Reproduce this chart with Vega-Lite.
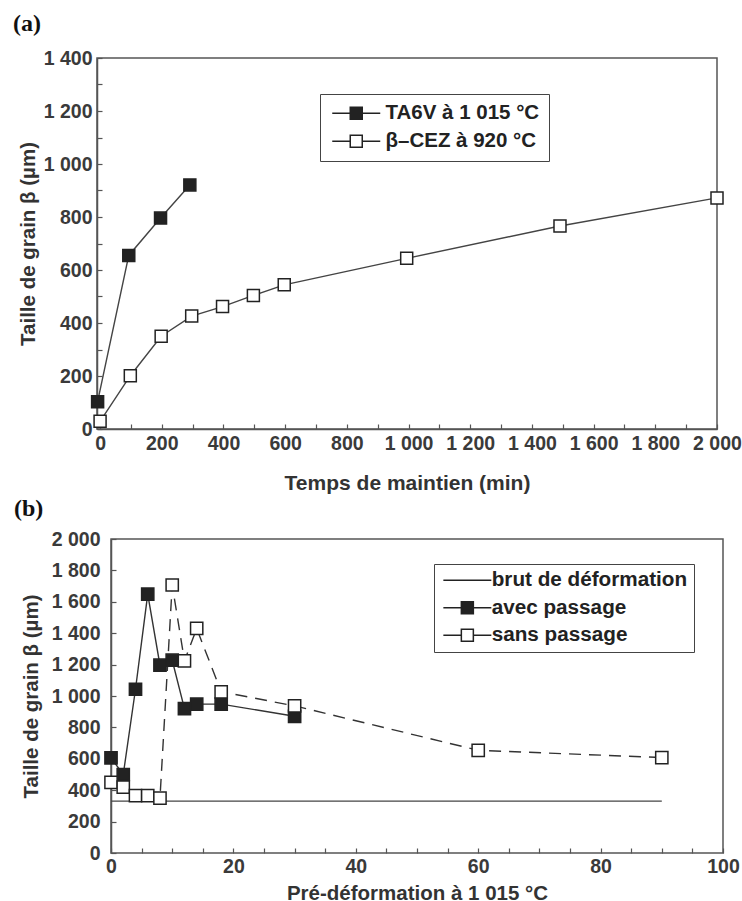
{
  "$schema": "https://vega.github.io/schema/vega-lite/v6.json",
  "padding": {"left": 12, "top": 11, "right": 0, "bottom": 0},
  "spacing": 2,
  "resolve": {"scale": {"fill": "independent", "shape": "independent"}, "legend": {"fill": "independent", "shape": "independent"}},
  "datasets": {
    "a": [
      {"series": "TA6V à 1 015 °C", "t": -8, "grain": 103},
      {"series": "TA6V à 1 015 °C", "t": 93, "grain": 655},
      {"series": "TA6V à 1 015 °C", "t": 196, "grain": 796},
      {"series": "TA6V à 1 015 °C", "t": 291, "grain": 921},
      {"series": "β–CEZ à 920 °C", "t": 0, "grain": 29},
      {"series": "β–CEZ à 920 °C", "t": 98, "grain": 201},
      {"series": "β–CEZ à 920 °C", "t": 198, "grain": 350},
      {"series": "β–CEZ à 920 °C", "t": 297, "grain": 426},
      {"series": "β–CEZ à 920 °C", "t": 397, "grain": 462},
      {"series": "β–CEZ à 920 °C", "t": 497, "grain": 504},
      {"series": "β–CEZ à 920 °C", "t": 597, "grain": 544},
      {"series": "β–CEZ à 920 °C", "t": 994, "grain": 644},
      {"series": "β–CEZ à 920 °C", "t": 1491, "grain": 766},
      {"series": "β–CEZ à 920 °C", "t": 2000, "grain": 872}
    ],
    "b": [
      {"series": "brut de déformation", "pre": 0, "grain": 330},
      {"series": "brut de déformation", "pre": 90, "grain": 330},
      {"series": "avec passage", "pre": 0, "grain": 606},
      {"series": "avec passage", "pre": 2, "grain": 500},
      {"series": "avec passage", "pre": 4, "grain": 1043},
      {"series": "avec passage", "pre": 6, "grain": 1649},
      {"series": "avec passage", "pre": 8, "grain": 1196},
      {"series": "avec passage", "pre": 10, "grain": 1228},
      {"series": "avec passage", "pre": 12, "grain": 920},
      {"series": "avec passage", "pre": 14, "grain": 948},
      {"series": "avec passage", "pre": 18, "grain": 948},
      {"series": "avec passage", "pre": 30, "grain": 871},
      {"series": "sans passage", "pre": 0, "grain": 450},
      {"series": "sans passage", "pre": 2, "grain": 420},
      {"series": "sans passage", "pre": 4, "grain": 365},
      {"series": "sans passage", "pre": 6, "grain": 365},
      {"series": "sans passage", "pre": 8, "grain": 350},
      {"series": "sans passage", "pre": 10, "grain": 1707},
      {"series": "sans passage", "pre": 12, "grain": 1224},
      {"series": "sans passage", "pre": 14, "grain": 1430},
      {"series": "sans passage", "pre": 18, "grain": 1027},
      {"series": "sans passage", "pre": 30, "grain": 937},
      {"series": "sans passage", "pre": 60, "grain": 654},
      {"series": "sans passage", "pre": 90, "grain": 608}
    ]
  },
  "vconcat": [
    {
      "title": {"text": "(a)", "anchor": "start", "frame": "group", "dx": -84, "offset": 12, "font": "Liberation Serif", "fontSize": 24, "fontWeight": "bold", "color": "#111"},
      "width": 620,
      "height": 371,
      "data": {"name": "a"},
      "encoding": {
        "x": {"field": "t", "type": "quantitative", "scale": {"domain": [-10, 2000], "nice": false, "zero": false},
          "axis": {"title": "Temps de maintien (min)", "values": [0,100,200,300,400,500,600,700,800,900,1000,1100,1200,1300,1400,1500,1600,1700,1800,1900,2000],
            "labelExpr": "datum.value % 200 === 0 ? replace(format(datum.value, ','), ',', ' ') : ''",
            "tickSize": -5, "labelPadding": 10, "titlePadding": 20, "titleFontSize": 21}},
        "y": {"field": "grain", "type": "quantitative", "scale": {"domain": [0, 1400], "nice": false},
          "axis": {"title": "Taille de grain β (µm)", "values": [0,100,200,300,400,500,600,700,800,900,1000,1100,1200,1300,1400],
            "labelExpr": "datum.value % 200 === 0 ? replace(format(datum.value, ','), ',', ' ') : ''",
            "tickSize": -5, "labelPadding": 10, "titlePadding": 5}}
      },
      "layer": [
        {"mark": {"type": "line", "color": "#444", "strokeWidth": 1.4}, "encoding": {"detail": {"field": "series"}}},
        {"mark": {"type": "square", "size": 144, "opacity": 1, "stroke": "#222", "strokeWidth": 1.5},
          "encoding": {"fill": {"field": "series", "type": "nominal",
            "scale": {"domain": ["TA6V à 1 015 °C", "β–CEZ à 920 °C"], "range": ["#222", "#ffffff"]},
            "legend": {"title": null, "orient": "none", "legendX": 223, "legendY": 36,
              "symbolType": "M-4,0H-1M1,0H4M-1,-1H1V1H-1Z", "symbolSize": 144, "symbolOffset": 17, "labelOffset": 19,
              "labelFontSize": 20.5, "labelLimit": 400, "padding": 9, "rowPadding": 7}}}}
      ]
    },
    {
      "title": {"text": "(b)", "anchor": "start", "frame": "group", "dx": -83, "offset": 8, "font": "Liberation Serif", "fontSize": 24, "fontWeight": "bold", "color": "#111"},
      "width": 626,
      "height": 314,
      "view": {"stroke": null},
      "data": {"name": "b"},
      "encoding": {
        "x": {"field": "pre", "type": "quantitative", "scale": {"domain": [-2.29, 100], "nice": false, "zero": false},
          "axis": {"title": "Pré-déformation à 1 015 °C", "values": [0,5,10,15,20,25,30,35,40,45,50,55,60,65,70,75,80,85,90,95,100],
            "labelExpr": "datum.value % 20 === 0 ? datum.value + '' : ''", "domain": false, "titleX": 320,
            "tickSize": -5, "labelPadding": 9, "titlePadding": 8}},
        "y": {"field": "grain", "type": "quantitative", "scale": {"domain": [0, 2000], "nice": false},
          "axis": {"title": "Taille de grain β (µm)", "values": [0,200,400,600,800,1000,1200,1400,1600,1800,2000],
            "labelExpr": "replace(format(datum.value, ','), ',', ' ')", "offset": -14,
            "tickSize": -5, "labelPadding": 16, "titlePadding": 10}}
      },
      "layer": [
        {"transform": [{"filter": "datum.series === 'brut de déformation' && datum.pre === 0"}],
          "mark": {"type": "rect", "fill": "transparent", "stroke": "#555", "strokeWidth": 1.5},
          "encoding": {"x": {"datum": 0, "type": "quantitative"}, "x2": {"datum": 100}, "y": {"datum": 0, "type": "quantitative"}, "y2": {"datum": 2000}}},
        {"transform": [{"filter": "datum.series === 'brut de déformation'"}],
          "mark": {"type": "line", "color": "#444", "strokeWidth": 1.3}, "encoding": {}},
        {"transform": [{"filter": "datum.series === 'avec passage'"}],
          "mark": {"type": "line", "color": "#333", "strokeWidth": 1.4}, "encoding": {}},
        {"transform": [{"filter": "datum.series === 'sans passage'"}],
          "mark": {"type": "line", "color": "#333", "strokeWidth": 1.4, "strokeDash": [12, 8]}, "encoding": {}},
        {"transform": [{"filter": "datum.series === 'avec passage'"}],
          "mark": {"type": "square", "size": 150, "opacity": 1, "fill": "#222", "stroke": "#222", "strokeWidth": 1.5}, "encoding": {}},
        {"transform": [{"filter": "datum.series === 'sans passage'"}],
          "mark": {"type": "square", "size": 150, "opacity": 1, "fill": "#ffffff", "stroke": "#222", "strokeWidth": 1.5}, "encoding": {}},
        {"transform": [{"filter": "datum.series === 'aucune'"}],
          "mark": {"type": "point", "size": 144, "opacity": 1, "filled": true, "stroke": "#222", "strokeWidth": 1.5},
          "encoding": {
            "fill": {"field": "series", "type": "nominal",
              "scale": {"domain": ["brut de déformation", "avec passage", "sans passage"], "range": ["#ffffff", "#222", "#ffffff"]},
              "legend": {"title": null, "orient": "none", "legendX": 337, "legendY": 25,
                "symbolSize": 144, "symbolOffset": 17, "labelOffset": 14,
                "labelFontSize": 20.7, "labelLimit": 400, "padding": 6, "rowPadding": 5.5}},
            "shape": {"field": "series", "type": "nominal",
              "scale": {"domain": ["brut de déformation", "avec passage", "sans passage"], "range": ["M-4,0H4", "M-4,0H-1M1,0H4M-1,-1H1V1H-1Z", "M-4,0H-1M1,0H4M-1,-1H1V1H-1Z"]},
              "legend": {"title": null, "orient": "none", "legendX": 337, "legendY": 25,
                "symbolSize": 144, "symbolOffset": 17, "labelOffset": 14,
                "labelFontSize": 20.7, "labelLimit": 400, "padding": 6, "rowPadding": 5.5}}}}
      ]
    }
  ],
  "config": {
    "font": "Liberation Sans",
    "view": {"stroke": "#555", "strokeWidth": 1.5},
    "axis": {"labelFont": "Liberation Sans", "labelFontSize": 19.5, "labelFontWeight": "bold", "labelColor": "#3a3a3a", "titleFont": "Liberation Sans", "titleFontSize": 20.5,
      "titleFontWeight": "bold", "titleColor": "#333", "domainColor": "#555", "domainWidth": 1.5, "tickColor": "#555", "tickWidth": 1.2,
      "grid": false, "labelFlush": false, "labelOverlap": false},
    "legend": {"labelFont": "Liberation Sans", "labelFontWeight": "bold", "labelColor": "#222", "strokeColor": "#444", "fillColor": "#ffffff", "symbolStrokeWidth": 1.5, "symbolOpacity": 1}
  }
}
